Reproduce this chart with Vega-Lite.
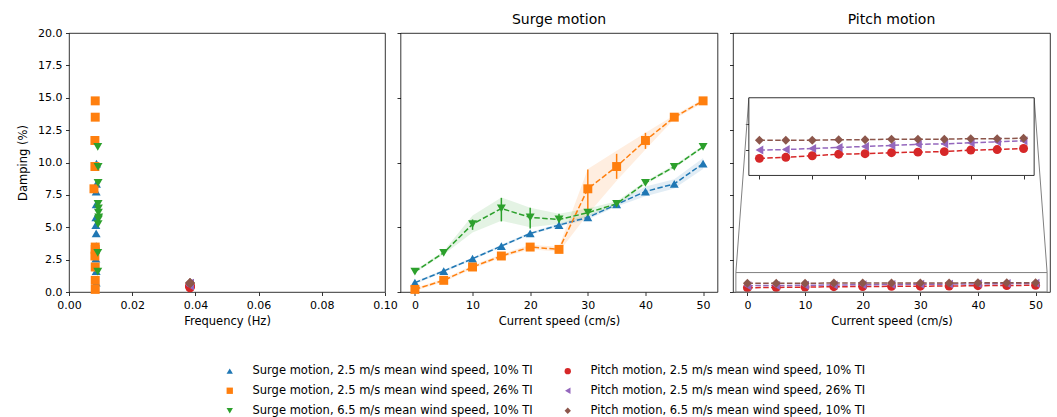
{
  "$schema": "https://vega.github.io/schema/vega-lite/v6.json",
  "padding": {"left": 17, "top": 12, "right": 0, "bottom": 0},
  "datasets": {
    "d": [
      {"m": "Surge", "s": "Surge motion, 2.5 m/s mean wind speed, 10% TI", "v": 0, "d": 0.72, "lo": 0.62, "hi": 0.82, "f": 0.0086},
      {"m": "Surge", "s": "Surge motion, 2.5 m/s mean wind speed, 10% TI", "v": 5, "d": 1.62, "lo": 1.52, "hi": 1.72, "f": 0.0086},
      {"m": "Surge", "s": "Surge motion, 2.5 m/s mean wind speed, 10% TI", "v": 10, "d": 2.57, "lo": 2.47, "hi": 2.67, "f": 0.0085},
      {"m": "Surge", "s": "Surge motion, 2.5 m/s mean wind speed, 10% TI", "v": 15, "d": 3.55, "lo": 3.45, "hi": 3.65, "f": 0.0086},
      {"m": "Surge", "s": "Surge motion, 2.5 m/s mean wind speed, 10% TI", "v": 20, "d": 4.52, "lo": 4.42, "hi": 4.62, "f": 0.0086},
      {"m": "Surge", "s": "Surge motion, 2.5 m/s mean wind speed, 10% TI", "v": 25, "d": 5.17, "lo": 5.05, "hi": 5.29, "f": 0.0085},
      {"m": "Surge", "s": "Surge motion, 2.5 m/s mean wind speed, 10% TI", "v": 30, "d": 5.76, "lo": 5.6, "hi": 5.92, "f": 0.0085},
      {"m": "Surge", "s": "Surge motion, 2.5 m/s mean wind speed, 10% TI", "v": 35, "d": 6.76, "lo": 6.6, "hi": 6.92, "f": 0.0086},
      {"m": "Surge", "s": "Surge motion, 2.5 m/s mean wind speed, 10% TI", "v": 40, "d": 7.76, "lo": 7.4, "hi": 8.15, "f": 0.0086},
      {"m": "Surge", "s": "Surge motion, 2.5 m/s mean wind speed, 10% TI", "v": 45, "d": 8.35, "lo": 8.0, "hi": 8.7, "f": 0.0087},
      {"m": "Surge", "s": "Surge motion, 2.5 m/s mean wind speed, 10% TI", "v": 50, "d": 9.92, "lo": 9.5, "hi": 10.35, "f": 0.0087},
      {"m": "Surge", "s": "Surge motion, 2.5 m/s mean wind speed, 26% TI", "v": 0, "d": 0.2, "lo": 0.1, "hi": 0.3, "f": 0.0083},
      {"m": "Surge", "s": "Surge motion, 2.5 m/s mean wind speed, 26% TI", "v": 5, "d": 0.9, "lo": 0.78, "hi": 1.02, "f": 0.0083},
      {"m": "Surge", "s": "Surge motion, 2.5 m/s mean wind speed, 26% TI", "v": 10, "d": 1.93, "lo": 1.8, "hi": 2.06, "f": 0.0083},
      {"m": "Surge", "s": "Surge motion, 2.5 m/s mean wind speed, 26% TI", "v": 15, "d": 2.78, "lo": 2.65, "hi": 2.92, "f": 0.0082},
      {"m": "Surge", "s": "Surge motion, 2.5 m/s mean wind speed, 26% TI", "v": 20, "d": 3.47, "lo": 3.3, "hi": 3.64, "f": 0.0083},
      {"m": "Surge", "s": "Surge motion, 2.5 m/s mean wind speed, 26% TI", "v": 25, "d": 3.29, "lo": 3.1, "hi": 3.5, "f": 0.0083},
      {"m": "Surge", "s": "Surge motion, 2.5 m/s mean wind speed, 26% TI", "v": 30, "d": 7.97, "lo": 6.0, "hi": 9.5, "elo": 6.38, "ehi": 9.46, "f": 0.0079},
      {"m": "Surge", "s": "Surge motion, 2.5 m/s mean wind speed, 26% TI", "v": 35, "d": 9.69, "lo": 8.6, "hi": 10.9, "elo": 8.74, "ehi": 10.67, "f": 0.0082},
      {"m": "Surge", "s": "Surge motion, 2.5 m/s mean wind speed, 26% TI", "v": 40, "d": 11.7, "lo": 11.0, "hi": 12.3, "elo": 11.05, "ehi": 12.29, "f": 0.0082},
      {"m": "Surge", "s": "Surge motion, 2.5 m/s mean wind speed, 26% TI", "v": 45, "d": 13.5, "lo": 13.35, "hi": 13.65, "f": 0.0083},
      {"m": "Surge", "s": "Surge motion, 2.5 m/s mean wind speed, 26% TI", "v": 50, "d": 14.76, "lo": 14.6, "hi": 14.9, "f": 0.0083},
      {"m": "Surge", "s": "Surge motion, 6.5 m/s mean wind speed, 10% TI", "v": 0, "d": 1.57, "lo": 1.47, "hi": 1.67, "f": 0.0091},
      {"m": "Surge", "s": "Surge motion, 6.5 m/s mean wind speed, 10% TI", "v": 5, "d": 3.03, "lo": 2.9, "hi": 3.16, "f": 0.0091},
      {"m": "Surge", "s": "Surge motion, 6.5 m/s mean wind speed, 10% TI", "v": 10, "d": 5.24, "lo": 4.6, "hi": 5.9, "elo": 4.8, "ehi": 5.6, "f": 0.0092},
      {"m": "Surge", "s": "Surge motion, 6.5 m/s mean wind speed, 10% TI", "v": 15, "d": 6.45, "lo": 5.5, "hi": 7.3, "elo": 5.45, "ehi": 7.27, "f": 0.0093},
      {"m": "Surge", "s": "Surge motion, 6.5 m/s mean wind speed, 10% TI", "v": 20, "d": 5.76, "lo": 5.0, "hi": 6.5, "elo": 4.9, "ehi": 6.5, "f": 0.0094},
      {"m": "Surge", "s": "Surge motion, 6.5 m/s mean wind speed, 10% TI", "v": 25, "d": 5.6, "lo": 5.25, "hi": 6.05, "elo": 5.2, "ehi": 6.05, "f": 0.0093},
      {"m": "Surge", "s": "Surge motion, 6.5 m/s mean wind speed, 10% TI", "v": 30, "d": 6.12, "lo": 5.85, "hi": 6.45, "f": 0.0093},
      {"m": "Surge", "s": "Surge motion, 6.5 m/s mean wind speed, 10% TI", "v": 35, "d": 6.81, "lo": 6.6, "hi": 7.0, "f": 0.0092},
      {"m": "Surge", "s": "Surge motion, 6.5 m/s mean wind speed, 10% TI", "v": 40, "d": 8.43, "lo": 8.3, "hi": 8.56, "f": 0.0092},
      {"m": "Surge", "s": "Surge motion, 6.5 m/s mean wind speed, 10% TI", "v": 45, "d": 9.67, "lo": 9.55, "hi": 9.8, "f": 0.0092},
      {"m": "Surge", "s": "Surge motion, 6.5 m/s mean wind speed, 10% TI", "v": 50, "d": 11.21, "lo": 11.1, "hi": 11.32, "f": 0.0091},
      {"m": "Pitch", "s": "Pitch motion, 2.5 m/s mean wind speed, 10% TI", "v": 0, "d": 0.33, "f": 0.0383},
      {"m": "Pitch", "s": "Pitch motion, 2.5 m/s mean wind speed, 10% TI", "v": 5, "d": 0.35, "f": 0.0383},
      {"m": "Pitch", "s": "Pitch motion, 2.5 m/s mean wind speed, 10% TI", "v": 10, "d": 0.38, "f": 0.0383},
      {"m": "Pitch", "s": "Pitch motion, 2.5 m/s mean wind speed, 10% TI", "v": 15, "d": 0.41, "f": 0.0383},
      {"m": "Pitch", "s": "Pitch motion, 2.5 m/s mean wind speed, 10% TI", "v": 20, "d": 0.42, "f": 0.0383},
      {"m": "Pitch", "s": "Pitch motion, 2.5 m/s mean wind speed, 10% TI", "v": 25, "d": 0.44, "f": 0.0383},
      {"m": "Pitch", "s": "Pitch motion, 2.5 m/s mean wind speed, 10% TI", "v": 30, "d": 0.45, "f": 0.0383},
      {"m": "Pitch", "s": "Pitch motion, 2.5 m/s mean wind speed, 10% TI", "v": 35, "d": 0.46, "f": 0.0383},
      {"m": "Pitch", "s": "Pitch motion, 2.5 m/s mean wind speed, 10% TI", "v": 40, "d": 0.49, "f": 0.0383},
      {"m": "Pitch", "s": "Pitch motion, 2.5 m/s mean wind speed, 10% TI", "v": 45, "d": 0.50, "f": 0.0383},
      {"m": "Pitch", "s": "Pitch motion, 2.5 m/s mean wind speed, 10% TI", "v": 50, "d": 0.52, "f": 0.0383},
      {"m": "Pitch", "s": "Pitch motion, 2.5 m/s mean wind speed, 26% TI", "v": 0, "d": 0.49, "f": 0.0383},
      {"m": "Pitch", "s": "Pitch motion, 2.5 m/s mean wind speed, 26% TI", "v": 5, "d": 0.50, "f": 0.0383},
      {"m": "Pitch", "s": "Pitch motion, 2.5 m/s mean wind speed, 26% TI", "v": 10, "d": 0.52, "f": 0.0383},
      {"m": "Pitch", "s": "Pitch motion, 2.5 m/s mean wind speed, 26% TI", "v": 15, "d": 0.54, "f": 0.0383},
      {"m": "Pitch", "s": "Pitch motion, 2.5 m/s mean wind speed, 26% TI", "v": 20, "d": 0.56, "f": 0.0383},
      {"m": "Pitch", "s": "Pitch motion, 2.5 m/s mean wind speed, 26% TI", "v": 25, "d": 0.58, "f": 0.0383},
      {"m": "Pitch", "s": "Pitch motion, 2.5 m/s mean wind speed, 26% TI", "v": 30, "d": 0.60, "f": 0.0383},
      {"m": "Pitch", "s": "Pitch motion, 2.5 m/s mean wind speed, 26% TI", "v": 35, "d": 0.61, "f": 0.0383},
      {"m": "Pitch", "s": "Pitch motion, 2.5 m/s mean wind speed, 26% TI", "v": 40, "d": 0.63, "f": 0.0383},
      {"m": "Pitch", "s": "Pitch motion, 2.5 m/s mean wind speed, 26% TI", "v": 45, "d": 0.65, "f": 0.0383},
      {"m": "Pitch", "s": "Pitch motion, 2.5 m/s mean wind speed, 26% TI", "v": 50, "d": 0.67, "f": 0.0383},
      {"m": "Pitch", "s": "Pitch motion, 6.5 m/s mean wind speed, 10% TI", "v": 0, "d": 0.68, "f": 0.0383},
      {"m": "Pitch", "s": "Pitch motion, 6.5 m/s mean wind speed, 10% TI", "v": 5, "d": 0.68, "f": 0.0383},
      {"m": "Pitch", "s": "Pitch motion, 6.5 m/s mean wind speed, 10% TI", "v": 10, "d": 0.68, "f": 0.0383},
      {"m": "Pitch", "s": "Pitch motion, 6.5 m/s mean wind speed, 10% TI", "v": 15, "d": 0.69, "f": 0.0383},
      {"m": "Pitch", "s": "Pitch motion, 6.5 m/s mean wind speed, 10% TI", "v": 20, "d": 0.69, "f": 0.0383},
      {"m": "Pitch", "s": "Pitch motion, 6.5 m/s mean wind speed, 10% TI", "v": 25, "d": 0.70, "f": 0.0383},
      {"m": "Pitch", "s": "Pitch motion, 6.5 m/s mean wind speed, 10% TI", "v": 30, "d": 0.70, "f": 0.0383},
      {"m": "Pitch", "s": "Pitch motion, 6.5 m/s mean wind speed, 10% TI", "v": 35, "d": 0.70, "f": 0.0383},
      {"m": "Pitch", "s": "Pitch motion, 6.5 m/s mean wind speed, 10% TI", "v": 40, "d": 0.71, "f": 0.0383},
      {"m": "Pitch", "s": "Pitch motion, 6.5 m/s mean wind speed, 10% TI", "v": 45, "d": 0.71, "f": 0.0383},
      {"m": "Pitch", "s": "Pitch motion, 6.5 m/s mean wind speed, 10% TI", "v": 50, "d": 0.72, "f": 0.0383}
    ]
  },
  "data": {"name": "d"},
  "spacing": 15.5,
  "bounds": "flush",
  "resolve": {"scale": {"x": "independent", "y": "independent", "color": "shared", "shape": "shared"}},
  "hconcat": [
    {
      "width": 316, "height": 259,
      "mark": {"type": "point", "filled": true, "opacity": 1, "size": 80},
      "encoding": {
        "x": {"field": "f", "type": "quantitative", "title": "Frequency (Hz)", "scale": {"domain": [0, 0.1], "nice": false, "zero": false}, "axis": {"values": [0, 0.02, 0.04, 0.06, 0.08, 0.1], "format": ".2f"}},
        "y": {"field": "d", "type": "quantitative", "title": "Damping (%)", "scale": {"domain": [0, 20], "nice": false}, "axis": {"values": [0, 2.5, 5, 7.5, 10, 12.5, 15, 17.5, 20], "format": ".1f", "titlePadding": 9}},
        "color": {"field": "s", "type": "nominal", "scale": {"domain": ["Surge motion, 2.5 m/s mean wind speed, 10% TI", "Surge motion, 2.5 m/s mean wind speed, 26% TI", "Surge motion, 6.5 m/s mean wind speed, 10% TI", "Pitch motion, 2.5 m/s mean wind speed, 10% TI", "Pitch motion, 2.5 m/s mean wind speed, 26% TI", "Pitch motion, 6.5 m/s mean wind speed, 10% TI"], "range": ["#1f77b4", "#ff7f0e", "#2ca02c", "#d62728", "#9467bd", "#8c564b"]}, "legend": {"orient": "none", "legendX": 155, "legendY": 332, "columns": 2, "title": null}},
        "shape": {"field": "s", "type": "nominal", "scale": {"domain": ["Surge motion, 2.5 m/s mean wind speed, 10% TI", "Surge motion, 2.5 m/s mean wind speed, 26% TI", "Surge motion, 6.5 m/s mean wind speed, 10% TI", "Pitch motion, 2.5 m/s mean wind speed, 10% TI", "Pitch motion, 2.5 m/s mean wind speed, 26% TI", "Pitch motion, 6.5 m/s mean wind speed, 10% TI"], "range": ["triangle-up", "square", "triangle-down", "circle", "triangle-left", "diamond"]}, "legend": {"orient": "none", "legendX": 155, "legendY": 332, "columns": 2, "title": null}}
      }
    },
    {
      "width": 317, "height": 259,
      "title": "Surge motion",
      "transform": [{"filter": "datum.m == 'Surge'"}],
      "encoding": {
        "x": {"field": "v", "type": "quantitative", "title": "Current speed (cm/s)", "scale": {"domain": [-2.5, 52.5], "nice": false, "zero": false}, "axis": {"values": [0, 10, 20, 30, 40, 50]}},
        "color": {"field": "s", "type": "nominal"}
      },
      "layer": [
        {"mark": {"type": "area", "opacity": 0.13}, "encoding": {"y": {"field": "lo", "type": "quantitative", "scale": {"domain": [0, 20], "nice": false}, "axis": {"values": [0, 2.5, 5, 7.5, 10, 12.5, 15, 17.5, 20], "labels": false, "title": null}}, "y2": {"field": "hi"}, "color": {"field": "s", "type": "nominal", "legend": null}}},
        {"mark": {"type": "rule", "strokeWidth": 1.5}, "transform": [{"filter": "isValid(datum.elo)"}], "encoding": {"y": {"field": "elo", "type": "quantitative"}, "y2": {"field": "ehi"}, "color": {"field": "s", "type": "nominal", "legend": null}}},
        {"mark": {"type": "line", "strokeWidth": 1.5, "strokeDash": [5.5, 2.4]}, "encoding": {"y": {"field": "d", "type": "quantitative"}, "color": {"field": "s", "type": "nominal", "legend": null}}},
        {"mark": {"type": "point", "filled": true, "opacity": 1, "size": 80}, "encoding": {"y": {"field": "d", "type": "quantitative"}, "shape": {"field": "s", "type": "nominal"}}}
      ]
    },
    {
      "width": 317, "height": 259,
      "title": "Pitch motion",
      "layer": [
        {
          "layer": [
            {"transform": [{"filter": "datum.m == 'Pitch'"}], "mark": {"type": "line", "strokeWidth": 1.5, "strokeDash": [5.5, 2.4]},
             "encoding": {
               "x": {"field": "v", "type": "quantitative", "title": "Current speed (cm/s)", "scale": {"domain": [-2.5, 52.5], "nice": false, "zero": false}, "axis": {"values": [0, 10, 20, 30, 40, 50], "orient": "bottom"}},
               "y": {"field": "d", "type": "quantitative", "scale": {"domain": [0, 20], "nice": false}, "axis": {"values": [0, 2.5, 5, 7.5, 10, 12.5, 15, 17.5, 20], "labels": false, "title": null, "orient": "left"}},
               "color": {"field": "s", "type": "nominal", "legend": null}}},
            {"transform": [{"filter": "datum.m == 'Pitch'"}], "mark": {"type": "point", "filled": true, "opacity": 1, "size": 80},
             "encoding": {
               "x": {"field": "v", "type": "quantitative", "title": "Current speed (cm/s)", "axis": {"values": [0, 10, 20, 30, 40, 50], "orient": "bottom"}},
               "y": {"field": "d", "type": "quantitative", "axis": {"values": [0, 2.5, 5, 7.5, 10, 12.5, 15, 17.5, 20], "labels": false, "title": null, "orient": "left"}},
               "color": {"field": "s", "type": "nominal"},
               "shape": {"field": "s", "type": "nominal"}}},
            {"data": {"values": [{}]}, "mark": {"type": "rect", "fillOpacity": 0, "stroke": "#808080", "strokeWidth": 1},
             "encoding": {
               "x": {"datum": -2, "type": "quantitative", "title": "Current speed (cm/s)", "axis": {"values": [0, 10, 20, 30, 40, 50], "orient": "bottom"}},
               "x2": {"datum": 52},
               "y": {"datum": 0, "type": "quantitative", "axis": {"values": [0, 2.5, 5, 7.5, 10, 12.5, 15, 17.5, 20], "labels": false, "title": null, "orient": "left"}},
               "y2": {"datum": 1.5}}},
            {"data": {"values": [{}]}, "mark": {"type": "rule", "stroke": "#808080", "strokeWidth": 1},
             "encoding": {
               "x": {"datum": -2, "type": "quantitative", "title": "Current speed (cm/s)", "axis": {"values": [0, 10, 20, 30, 40, 50], "orient": "bottom"}},
               "x2": {"datum": 0.25},
               "y": {"datum": 1.5, "type": "quantitative", "axis": {"values": [0, 2.5, 5, 7.5, 10, 12.5, 15, 17.5, 20], "labels": false, "title": null, "orient": "left"}},
               "y2": {"datum": 15}}},
            {"data": {"values": [{}]}, "mark": {"type": "rule", "stroke": "#808080", "strokeWidth": 1},
             "encoding": {
               "x": {"datum": 52, "type": "quantitative", "title": "Current speed (cm/s)", "axis": {"values": [0, 10, 20, 30, 40, 50], "orient": "bottom"}},
               "x2": {"datum": 49.75},
               "y": {"datum": 1.5, "type": "quantitative", "axis": {"values": [0, 2.5, 5, 7.5, 10, 12.5, 15, 17.5, 20], "labels": false, "title": null, "orient": "left"}},
               "y2": {"datum": 15}}}
          ]
        },
        {
          "layer": [
            {"data": {"values": [{}]}, "mark": {"type": "rect", "fill": "white", "stroke": "#000", "strokeWidth": 0.8},
             "encoding": {
               "x": {"datum": -2, "type": "quantitative", "scale": {"domain": [-5, 55], "nice": false, "zero": false}, "axis": {"orient": "bottom", "offset": -116.5, "values": [0, 10, 20, 30, 40, 50], "labels": false, "domain": false, "title": null}},
               "x2": {"datum": 52},
               "y": {"datum": 0, "type": "quantitative", "scale": {"domain": [-2.25, 2.75], "nice": false, "zero": false}, "axis": {"orient": "left", "offset": -15.85, "values": [0.5, 1.0], "labels": false, "domain": false, "title": null}},
               "y2": {"datum": 1.5}}},
            {"transform": [{"filter": "datum.m == 'Pitch'"}], "mark": {"type": "line", "strokeWidth": 1.5, "strokeDash": [5.5, 2.4]},
             "encoding": {
               "x": {"field": "v", "type": "quantitative", "axis": {"orient": "bottom", "offset": -116.5, "values": [0, 10, 20, 30, 40, 50], "labels": false, "domain": false, "title": null}},
               "y": {"field": "d", "type": "quantitative", "axis": {"orient": "left", "offset": -15.85, "values": [0.5, 1.0], "labels": false, "domain": false, "title": null}},
               "color": {"field": "s", "type": "nominal", "legend": null}}},
            {"transform": [{"filter": "datum.m == 'Pitch'"}], "mark": {"type": "point", "filled": true, "opacity": 1, "size": 80},
             "encoding": {
               "x": {"field": "v", "type": "quantitative", "axis": {"orient": "bottom", "offset": -116.5, "values": [0, 10, 20, 30, 40, 50], "labels": false, "domain": false, "title": null}},
               "y": {"field": "d", "type": "quantitative", "axis": {"orient": "left", "offset": -15.85, "values": [0.5, 1.0], "labels": false, "domain": false, "title": null}},
               "color": {"field": "s", "type": "nominal"},
               "shape": {"field": "s", "type": "nominal"}}}
          ]
        }
      ],
      "resolve": {"scale": {"x": "independent", "y": "independent"}, "axis": {"x": "independent", "y": "independent"}}
    }
  ],
  "config": {
    "font": "DejaVu Sans",
    "view": {"stroke": "#000", "strokeWidth": 0.8},
    "axis": {"domain": false, "grid": false, "tickColor": "#000", "tickSize": 3.5, "tickWidth": 0.8, "labelColor": "#000", "labelFontSize": 11, "labelFont": "DejaVu Sans", "titleFont": "DejaVu Sans", "titleFontSize": 11.5, "titleFontWeight": "normal", "titleColor": "#000", "labelPadding": 3.5, "titlePadding": 5, "labelFlush": false, "labelOverlap": false},
    "title": {"fontSize": 14, "fontWeight": "normal", "font": "DejaVu Sans", "color": "#000", "offset": 6},
    "legend": {"labelFont": "DejaVu Sans", "labelFontSize": 11.5, "labelColor": "#000", "symbolSize": 40, "labelOffset": 17, "rowPadding": 7, "columnPadding": 29, "labelLimit": 400, "symbolStrokeWidth": 0}
  }
}
